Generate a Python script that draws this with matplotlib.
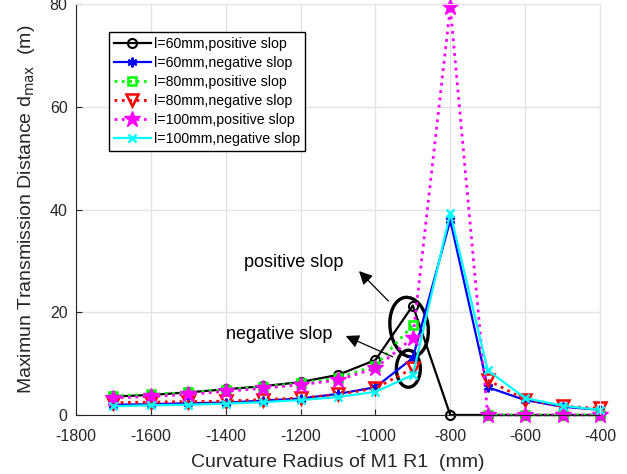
import numpy as np
import matplotlib.pyplot as plt
from matplotlib.patches import Ellipse
from matplotlib.transforms import IdentityTransform

plt.rcParams['font.family'] = ['Liberation Sans', 'DejaVu Sans']
plt.rcParams['axes.unicode_minus'] = False

# curvature radius of M1 (mm)
radius = [-1700, -1600, -1500, -1400, -1300, -1200, -1100, -1000, -900, -800, -700, -600, -500, -400]

# maximum transmission distance (m); nan = no value at that radius
nan = np.nan
l60_pos = [3.6, 3.9, 4.4, 5.0, 5.6, 6.4, 7.8, 10.7, 21.3, 0, 0, 0, 0, 0]
l60_neg = [2.0, 2.1, 2.3, 2.4, 2.8, 3.2, 4.1, 5.4, 11.1, 37.9, 5.4, 2.9, 1.6, 1.0]
l80_pos = [3.7, 4.0, 4.4, 4.9, 5.5, 6.2, 7.2, 9.6, 17.5, nan, 0, 0, 0, 0]
l80_neg = [2.4, 2.5, 2.6, 2.7, 3.0, 3.3, 4.0, 5.2, 9.1, nan, 6.8, 3.0, 1.7, 1.3]
l100_pos = [3.3, 3.6, 4.0, 4.6, 5.2, 5.9, 6.8, 9.1, 15.0, 79.4, 0, 0, 0, 0]
l100_neg = [1.7, 1.9, 2.0, 2.2, 2.5, 2.9, 3.5, 4.5, 7.8, 39.3, 8.7, 3.3, 1.8, 1.0]

series = [
    (l60_pos, 'l=60mm,positive slop', dict(color='k', ls='-', marker='o', mfc='none', ms=6.5, lw=1.6, mew=1.5)),
    (l60_neg, 'l=60mm,negative slop', dict(color='#0000ff', ls='-', marker=(6, 2, 0), ms=7, lw=1.6, mew=1.5)),
    (l80_pos, 'l=80mm,positive slop', dict(color='#00ff00', ls=':', marker='s', mfc='none', ms=6, lw=2, mew=1.8)),
    (l80_neg, 'l=80mm,negative slop', dict(color='#ff0000', ls=':', marker='v', mfc='none', ms=8, lw=2, mew=1.8)),
    (l100_pos, 'l=100mm,positive slop', dict(color='#ff00ff', ls=':', marker='*', ms=12, lw=2, mew=1)),
    (l100_neg, 'l=100mm,negative slop', dict(color='#00ffff', ls='-', marker='x', ms=6, lw=1.6, mew=1.8)),
]

fig = plt.figure(figsize=(6.27, 4.74), dpi=100)
ax = fig.add_axes([0.121, 0.1245, 0.836, 0.867])

for vals, lab, style in series:
    ax.plot(radius, vals, label=lab, clip_on=False, **style)

ax.set_xlim(-1800, -400)
ax.set_ylim(0, 80)
ax.set_xticks(np.arange(-1800, -399, 200))
ax.set_yticks(np.arange(0, 81, 20))
ax.grid(True, color='#e3e3e3', lw=1)
ax.set_axisbelow(True)
ax.tick_params(direction='in', labelsize=11.5, length=4, colors='#262626')
ax.tick_params(axis='x', pad=10)
ax.tick_params(axis='y', pad=6)
for s in ['top', 'right']:
    ax.spines[s].set_color('#e3e3e3')
for s in ['left', 'bottom']:
    ax.spines[s].set_color('#262626')

ax.set_xlabel('Curvature Radius of M1 R1  (mm)', fontsize=14, color='#262626', labelpad=7)
ax.set_ylabel(r'Maximun Transmission Distance d$_{\rm max}$  (m)', fontsize=14, color='#262626', labelpad=9)

leg = ax.legend(loc='upper left', bbox_to_anchor=(0.063, 0.932), borderaxespad=0, fontsize=10.2,
                frameon=True, fancybox=False, edgecolor='k', framealpha=1,
                handlelength=2.6, borderpad=0.35, labelspacing=0.36, handletextpad=0.25)
leg.get_frame().set_linewidth(1)

# ellipses around the -900 mm points, drawn in pixel units
def ring(x, y, w, h, angle):
    cx, cy = ax.transData.transform((x, y))
    ax.add_artist(Ellipse((cx, cy), w, h, angle=angle, fill=False, ec='k', lw=2.4,
                          transform=IdentityTransform()))

ring(-910, 17.1, 38, 60, 8)
ring(-912, 9.0, 24, 37, 0)

ax.annotate('', xy=(-1049, 28.4), xytext=(-960, 21.8),
            arrowprops=dict(arrowstyle='-|>', color='k', lw=0.9, mutation_scale=20))
ax.annotate('', xy=(-1086, 15.6), xytext=(-947, 11.1),
            arrowprops=dict(arrowstyle='-|>', color='k', lw=0.9, mutation_scale=20))
ax.text(-1217, 29.6, 'positive slop', fontsize=13, ha='center', va='center')
ax.text(-1257, 15.6, 'negative slop', fontsize=13, ha='center', va='center')

fig.savefig('out.png', dpi=100)
